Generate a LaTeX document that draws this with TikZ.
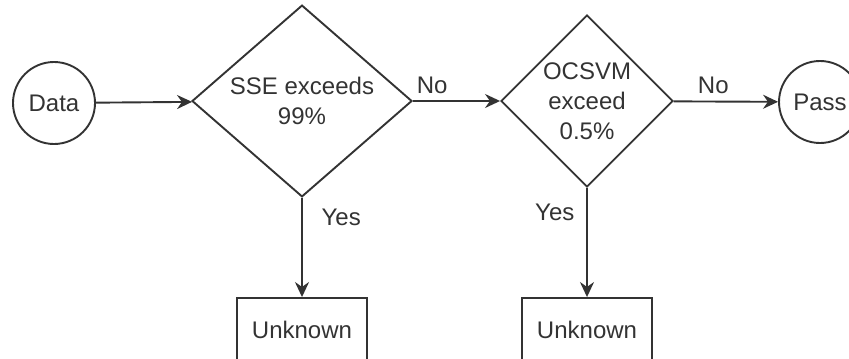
\documentclass[tikz,border=0pt]{standalone}
\usepackage{fontspec}
\setmainfont{Liberation Sans}
\usetikzlibrary{shapes.geometric,arrows.meta}

\tikzset{
  term/.style={circle, draw, minimum size=41pt, inner sep=0pt},
  test/.style={diamond, draw, inner sep=0pt, align=center},
  outbox/.style={rectangle, draw, minimum width=65pt, minimum height=32pt, inner sep=0pt}
}

\begin{document}
\begin{tikzpicture}[x=0.5pt, y=-0.5pt, color=black!80, line width=0.95pt,
    every node/.style={font=\fontsize{12}{15}\selectfont},
    >={Stealth[length=7.5pt, width=7pt]}]
  \useasboundingbox (0,0) rectangle (849,358);
  \node[term] (data) at (54,103) {Data};
  \node[test, minimum width=110pt, minimum height=90pt] (sse) at (302,101) {SSE exceeds\\99\%};
  \node[test, minimum width=86pt, minimum height=86pt] (ocsvm) at (587,101) {OCSVM\\exceed\\0.5\%};
  \node[term] (pass) at (820,102) {Pass};
  \node[outbox] (unk1) at (302,330) {Unknown};
  \node[outbox] (unk2) at (587,330) {Unknown};
  \draw[->] (data) -- (sse);
  \draw[->] (sse) -- node[above, pos=0.22] (no1) {No} (ocsvm);
  \draw[->] (ocsvm) -- node[above, pos=0.38] (no2) {No} (pass);
  \draw[->] (sse) -- node[right, pos=0.2, xshift=6pt] (yes1) {Yes} (unk1);
  \draw[->] (ocsvm) -- node[left, pos=0.22, xshift=-2.5pt] (yes2) {Yes} (unk2);
\end{tikzpicture}
\end{document}
